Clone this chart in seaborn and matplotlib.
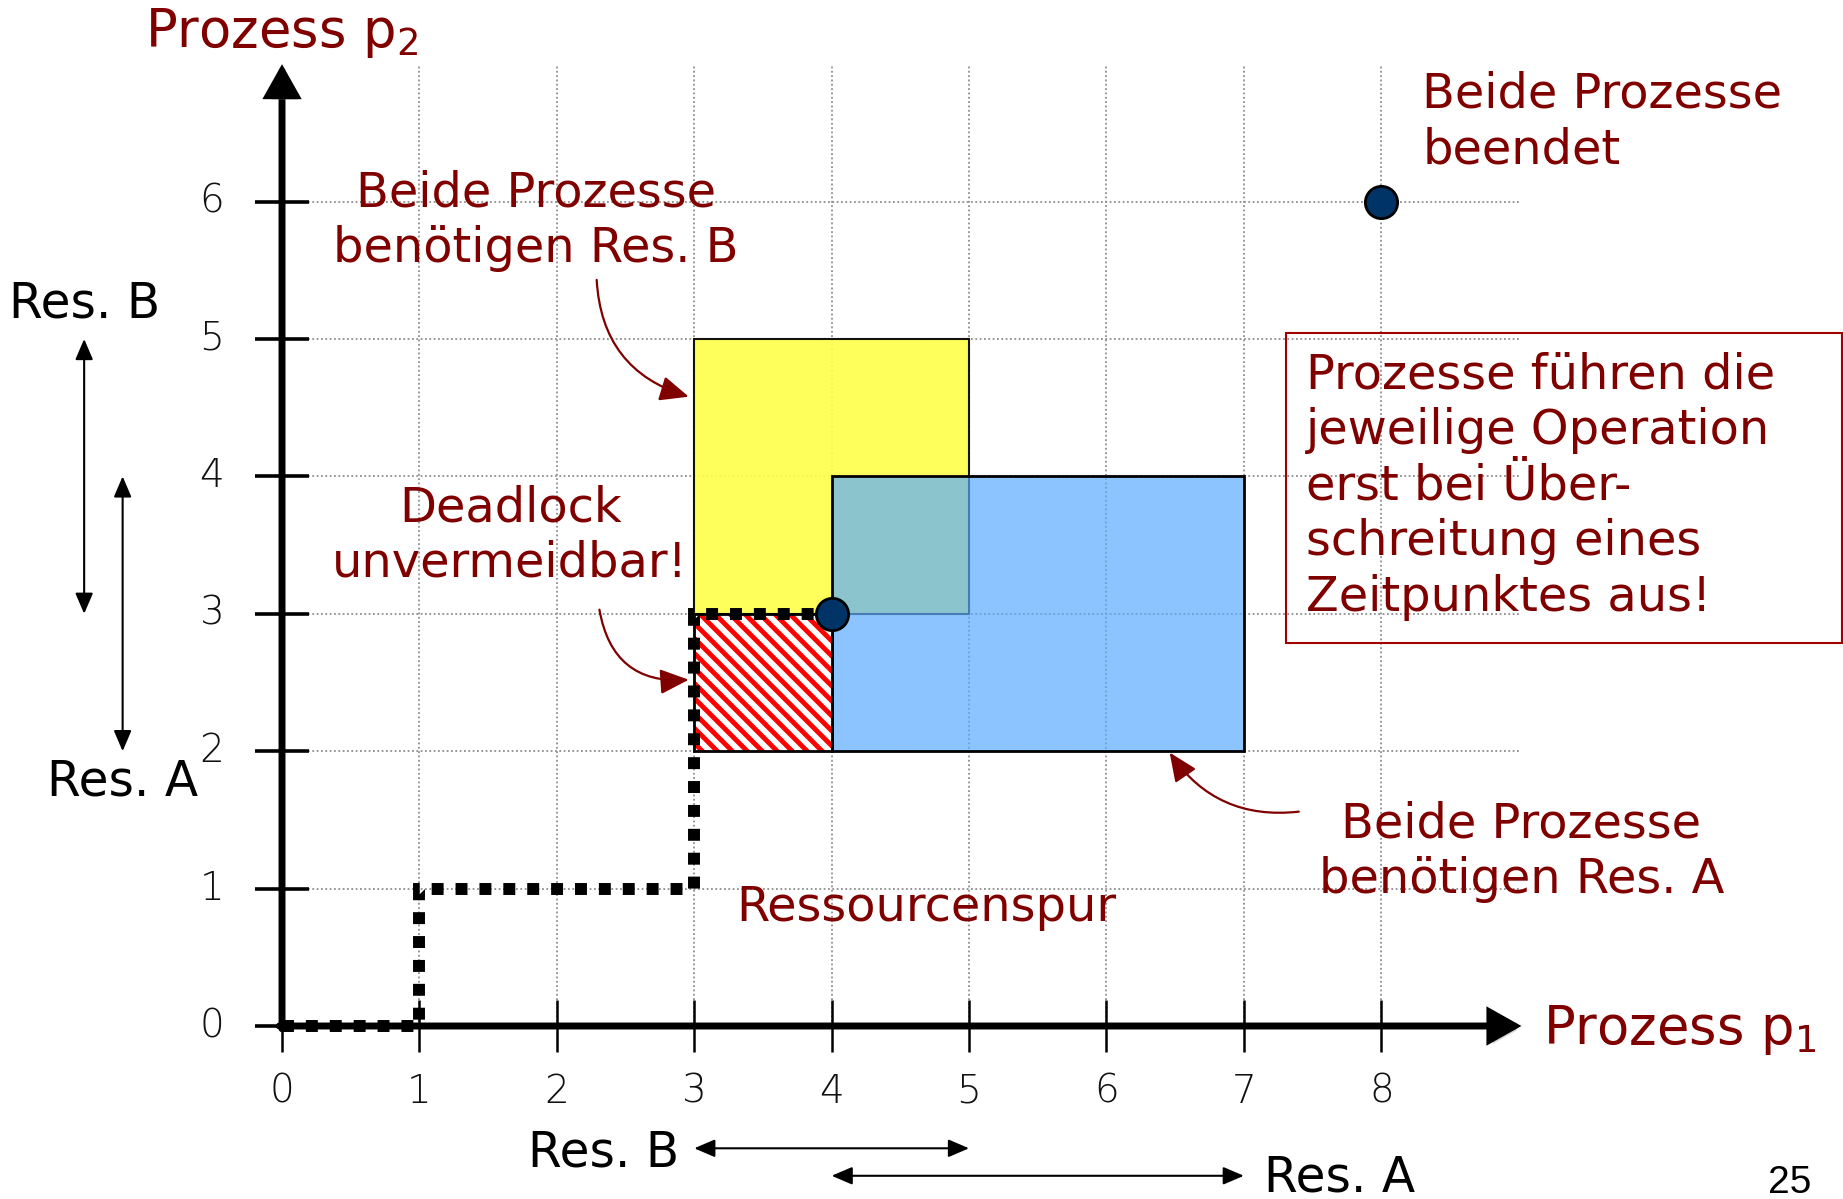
import numpy as np
import pandas as pd
import matplotlib
matplotlib.use("Agg")
import matplotlib.pyplot as plt
import matplotlib.patheffects as pe
from matplotlib.patches import Rectangle, FancyArrowPatch
import seaborn as sns

# ---------------- data ----------------
x_ticks = [0, 1, 2, 3, 4, 5, 6, 7, 8]
y_ticks = [0, 1, 2, 3, 4, 5, 6]
x_tick_labels = ["0", "1", "2", "3", "4", "5", "6", "7", "8"]
y_tick_labels = ["0", "1", "2", "3", "4", "5", "6"]

# resource trail (p1 progress, p2 progress)
trail_p1 = [0, 1, 1, 3, 3, 4]
trail_p2 = [0, 0, 1, 1, 3, 3]

# resource usage intervals
res_b_p1 = [3, 5]   # p1 needs Res. B
res_b_p2 = [3, 5]   # p2 needs Res. B
res_a_p1 = [4, 7]   # p1 needs Res. A
res_a_p2 = [2, 4]   # p2 needs Res. A

# marked points: deadlock point, both finished
point_p1 = [4, 8]
point_p2 = [3, 6]

DARKRED = "#800000"
YELLOW = "#FFFF4D"
BLUE = (92 / 255, 171 / 255, 1.0, 0.7)
NAVY = "#003366"

# ---------------- figure ----------------
sns.set_theme(style="white")
plt.rcParams["font.family"] = ["DejaVu Sans"]

fig = plt.figure(figsize=(18.43, 11.99), dpi=100)
ax = fig.add_axes([0, 0, 1, 1])
XLIM = (-2.052, 11.36)
YLIM = (-1.259, 7.467)

x_end = 9.02
y_end = 7.0

# grid
ax.vlines(x_ticks[1:], 0, y_end, colors="#8f8f8f", lw=1.3, linestyles=(0, (1, 1.4)), zorder=1)
ax.hlines(y_ticks[1:], 0, x_end, colors="#8f8f8f", lw=1.3, linestyles=(0, (1, 1.4)), zorder=1)

# rectangles
ax.add_patch(Rectangle((res_b_p1[0], res_b_p2[0]), res_b_p1[1] - res_b_p1[0], res_b_p2[1] - res_b_p2[0],
                       facecolor=YELLOW, edgecolor="black", lw=1.5, alpha=0.92, zorder=2))
ax.add_patch(Rectangle((res_a_p1[0], res_a_p2[0]), res_a_p1[1] - res_a_p1[0], res_a_p2[1] - res_a_p2[0],
                       facecolor=BLUE, edgecolor="black", lw=2, zorder=3))
# deadlock region (red stripes)
dl_x0, dl_x1 = res_b_p1[0], res_a_p1[0]
dl_y0, dl_y1 = res_a_p2[0], res_b_p2[0]
dl_box = Rectangle((dl_x0, dl_y0), dl_x1 - dl_x0, dl_y1 - dl_y0,
                   facecolor="white", edgecolor="none", zorder=3)
ax.add_patch(dl_box)
step = 0.109
for c in np.arange(dl_x0 + dl_y0 - 0.05, dl_x1 + dl_y1 + 0.2, step):
    ln, = ax.plot([c - dl_y1 - 0.2, c - dl_y0 + 0.2], [dl_y1 + 0.2, dl_y0 - 0.2],
                  color="#ff0000", lw=3.5, solid_capstyle="butt", zorder=3.2)
    ln.set_clip_path(dl_box)
ax.add_patch(Rectangle((dl_x0, dl_y0), dl_x1 - dl_x0, dl_y1 - dl_y0,
                       fill=False, edgecolor="black", lw=2, zorder=3.5))

# axes arrows
shadow = [pe.SimplePatchShadow(offset=(2, -3), shadow_rgbFace="gray", alpha=0.35), pe.Normal()]
for start, end in [((0, -0.02), (0, y_end)), ((-0.02, 0), (x_end, 0))]:
    arr = FancyArrowPatch(start, end, arrowstyle="-|>,head_length=0.8,head_width=0.45",
                          mutation_scale=22, lw=5, color="black", shrinkA=0, shrinkB=0,
                          joinstyle="miter", zorder=5, path_effects=shadow)
    ax.add_patch(arr)

# tick marks
ax.vlines(x_ticks, -0.19, 0.19, colors="black", lw=1.8, zorder=5)
ax.hlines(y_ticks, -0.2, 0.2, colors="black", lw=2.6, zorder=5)

tick_font = dict(fontsize=28, color="#111111", fontweight="light", family=["DejaVu Sans"])
for x, lab in zip(x_ticks, x_tick_labels):
    ax.text(x, -0.48, lab, ha="center", va="center", **tick_font)
for y, lab in zip(y_ticks, y_tick_labels):
    ax.text(-0.51, y, lab, ha="center", va="center", **tick_font)

# resource trail
trail = pd.DataFrame({"p1": trail_p1, "p2": trail_p2})
sns.lineplot(data=trail, x="p1", y="p2", sort=False, estimator=None, ax=ax, color="black", zorder=6)
trail_line = ax.lines[-1]
trail_line.set_linewidth(8.6)
trail_line.set_linestyle((0, (1.0, 1.0)))
trail_line.set_dash_capstyle("butt")
trail_line.set_dash_joinstyle("miter")

# points
pts = pd.DataFrame({"p1": point_p1, "p2": point_p2})
sns.scatterplot(data=pts, x="p1", y="p2", ax=ax, s=540, color=NAVY, edgecolor="black",
                linewidth=2, zorder=7, legend=False)
ax.set_xlim(*XLIM)
ax.set_ylim(*YLIM)
ax.set_aspect("equal")
ax.axis("off")

# axis labels
ax.text(0, 7.23, "Prozess p$_2$", ha="center", va="center", fontsize=38, color=DARKRED)
ax.text(9.18, -0.03, "Prozess p$_1$", ha="left", va="center", fontsize=38, color=DARKRED)

# annotations
txt = dict(fontsize=34.5, color=DARKRED, linespacing=1.23)
ax.text(1.85, 5.86, "Beide Prozesse\nbenötigen Res. B", ha="center", va="center", **txt)
ax.text(1.66, 3.57, "Deadlock\nunvermeidbar!", ha="center", va="center", **txt)
ax.text(4.69, 0.86, "Ressourcenspur", ha="center", va="center", **txt)
ax.text(9.02, 1.27, "Beide Prozesse\nbenötigen Res. A", ha="center", va="center", **txt)
ax.text(8.3, 6.58, "Beide Prozesse\nbeendet", ha="left", va="center", **txt)

# note box
ax.add_patch(Rectangle((7.31, 2.79), 4.04, 2.25, fill=False, edgecolor="#a00000", lw=1.5, zorder=4))
ax.text(7.45, 3.93, "Prozesse führen die\njeweilige Operation\nerst bei Über-\nschreitung eines\nZeitpunktes aus!",
        ha="left", va="center", **txt)

# curved annotation arrows
curve = dict(arrowstyle="-|>,head_length=0.8,head_width=0.35", color=DARKRED, lw=1.6,
             mutation_scale=22, shrinkA=0, shrinkB=0)
ax.annotate("", xy=(2.96, 4.58), xytext=(2.29, 5.43),
            arrowprops=dict(connectionstyle="arc3,rad=0.35", **curve))
ax.annotate("", xy=(2.96, 2.52), xytext=(2.31, 3.03),
            arrowprops=dict(connectionstyle="arc3,rad=0.45", **curve))
ax.annotate("", xy=(6.46, 1.99), xytext=(7.40, 1.56),
            arrowprops=dict(connectionstyle="arc3,rad=-0.3", **curve))

# resource interval arrows (left and bottom)
dbl = dict(arrowstyle="<|-|>,head_length=0.7,head_width=0.3", color="black", lw=1.5,
           mutation_scale=18, shrinkA=0, shrinkB=0)
ax.annotate("", xy=(-1.44, res_b_p2[0]), xytext=(-1.44, res_b_p2[1]), arrowprops=dbl)
ax.annotate("", xy=(-1.16, res_a_p2[0]), xytext=(-1.16, res_a_p2[1]), arrowprops=dbl)
ax.annotate("", xy=(res_b_p1[0], -0.89), xytext=(res_b_p1[1], -0.89), arrowprops=dbl)
ax.annotate("", xy=(res_a_p1[0], -1.09), xytext=(res_a_p1[1], -1.09), arrowprops=dbl)

blk = dict(fontsize=35, color="black")
ax.text(-1.44, 5.26, "Res. B", ha="center", va="center", **blk)
ax.text(-1.16, 1.78, "Res. A", ha="center", va="center", **blk)
ax.text(2.89, -0.92, "Res. B", ha="right", va="center", **blk)
ax.text(7.15, -1.10, "Res. A", ha="left", va="center", **blk)

fig.text(0.971, 0.0135, "25", ha="center", va="center", fontsize=28,
         family=["Liberation Sans"], color="black")

fig.savefig("out.png", dpi=100)
